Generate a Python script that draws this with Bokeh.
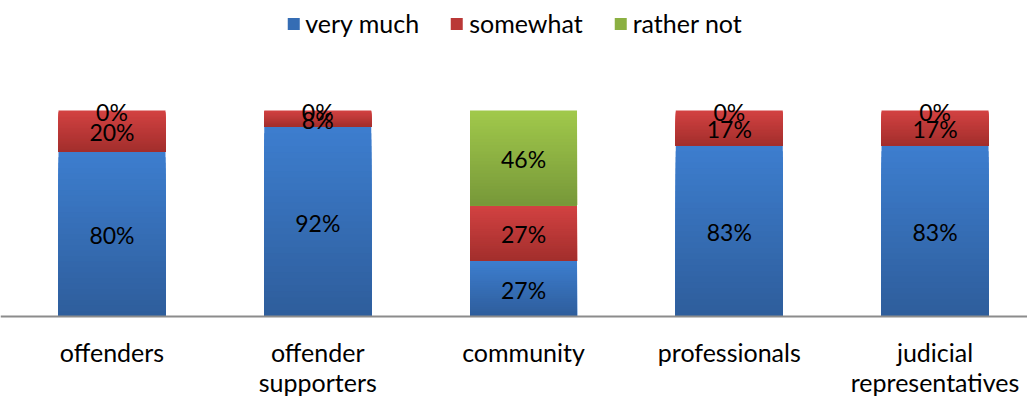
from bokeh.plotting import figure
from bokeh.models import Range1d, Legend, LegendItem, ColumnDataSource, Span
from bokeh.core.properties import value
from bokeh.embed import file_html
from bokeh.resources import INLINE

categories = ["offenders", "offender\nsupporters", "community", "professionals", "judicial\nrepresentatives"]
very_much = [80, 92, 27, 83, 83]
somewhat = [20, 8, 27, 17, 17]
rather_not = [0, 0, 46, 0, 0]

series_names = ["very much", "somewhat", "rather not"]
series_values = [very_much, somewhat, rather_not]
# (top colour, bottom colour)
series_colors = [("#3d7ecf", "#2e5d9b"),
                 ("#d34242", "#a22e2c"),
                 ("#a1c94b", "#779839")]

FONT = "Lato"
BAR_W = 0.52
N_STRIPS = 30


def hex_to_rgb(h):
    h = h.lstrip("#")
    return tuple(int(h[i:i + 2], 16) for i in (0, 2, 4))


def lerp(c1, c2, t):
    a, b = hex_to_rgb(c1), hex_to_rgb(c2)
    return "#%02x%02x%02x" % tuple(round(a[i] + (b[i] - a[i]) * t) for i in range(3))


p = figure(width=1027, height=397, output_backend="svg", toolbar_location=None,
           x_range=Range1d(-0.5419, 4.4494), y_range=Range1d(-39.32, 153.40),
           x_axis_location=None, y_axis_location=None)
p.min_border_left = 0
p.min_border_right = 0
p.min_border_top = 0
p.min_border_bottom = 0
p.outline_line_color = None
p.xgrid.visible = False
p.ygrid.visible = False
p.background_fill_color = "white"

xs = list(range(len(categories)))
cum = [0] * len(categories)
lab_x, lab_y, lab_t = [], [], []
legend_items = []
for name, vals, (ctop, cbot) in zip(series_names, series_values, series_colors):
    left, right, bottom, top, colors = [], [], [], [], []
    for i, v in enumerate(vals):
        b = cum[i]
        t = cum[i] + v
        if v > 0:
            h = (t - b) / N_STRIPS
            for k in range(N_STRIPS):
                # each strip reaches down to the segment bottom; later strips overlay earlier ones
                left.append(xs[i] - BAR_W / 2)
                right.append(xs[i] + BAR_W / 2)
                top.append(t - k * h)
                bottom.append(b)
                colors.append(lerp(ctop, cbot, (k + 0.5) / N_STRIPS))
        lab_x.append(xs[i])
        lab_y.append((b + t) / 2)
        lab_t.append("%d%%" % v)
        cum[i] = t
    src = ColumnDataSource(dict(left=left, right=right, bottom=bottom, top=top, color=colors))
    r = p.quad(left="left", right="right", bottom="bottom", top="top", source=src,
               fill_color="color", line_color=None)
    legend_items.append(LegendItem(label=name, renderers=[r], index=N_STRIPS // 2))

# baseline (category axis line)
p.add_layout(Span(location=0, dimension="width", line_color="#8c8c8c", line_width=2))

# data labels
p.text(x=lab_x, y=lab_y, text=lab_t, text_align="center", text_baseline="middle",
       y_offset=1, text_font=value(FONT), text_font_size="23px", text_color="black")

# category labels below the baseline
p.text(x=xs, y=[0] * len(xs), text=categories, text_align="center", text_baseline="top",
       y_offset=20, text_line_height=1.03,
       text_font=value(FONT), text_font_size="25px", text_color="black")

legend = Legend(items=legend_items, orientation="horizontal", location="top_center")
legend.border_line_color = None
legend.background_fill_alpha = 0
legend.label_text_font = FONT
legend.label_text_font_size = "25px"
legend.label_text_color = "black"
legend.glyph_width = 15
legend.glyph_height = 15
legend.label_standoff = 5
legend.spacing = 30
legend.margin = 8
legend.padding = 0
p.add_layout(legend)

open("out.html", "w").write(file_html(p, INLINE))
